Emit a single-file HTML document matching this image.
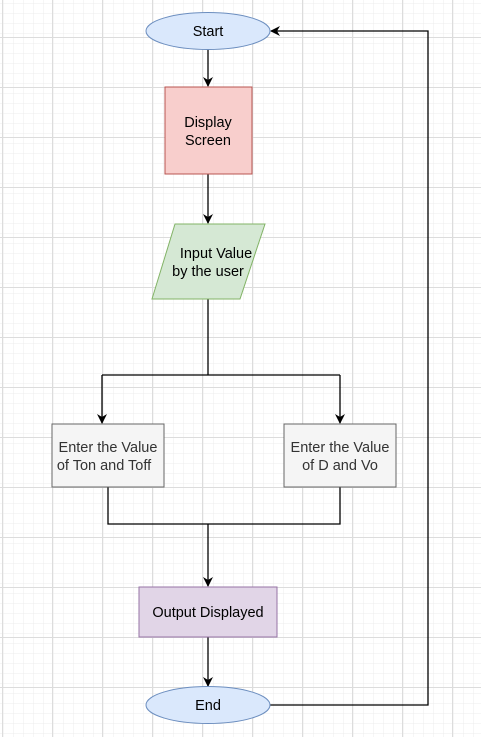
<!DOCTYPE html>
<html><head><style>body{margin:0;background:#fff}svg{display:block}</style></head><body>
<svg width="481" height="737" xmlns="http://www.w3.org/2000/svg" font-family="Liberation Sans, sans-serif" font-size="14.5">
<defs>
<pattern id="g" width="10" height="10" patternUnits="userSpaceOnUse" x="2" y="7"><path d="M10 0V10M0 10H10" stroke="#ececec" fill="none" stroke-width="1"/></pattern>
<pattern id="G" width="50" height="50" patternUnits="userSpaceOnUse" x="2" y="37"><rect width="50" height="50" fill="url(#g)"/><path d="M0 0.5H50M0.5 0V50" stroke="#dcdcdc" fill="none"/></pattern>
<marker id="a" markerWidth="10" markerHeight="10" refX="9" refY="5" orient="auto" markerUnits="userSpaceOnUse"><path d="M0 0L10 5L0 10L3 5Z" fill="#000"/></marker>
</defs>
<rect width="481" height="737" fill="url(#G)"/>
<g stroke="#000" stroke-width="1.3" fill="none">
<path d="M208 49V86" marker-end="url(#a)"/>
<path d="M208 174V223" marker-end="url(#a)"/>
<path d="M208 299V375"/>
<path d="M102 375H340"/>
<path d="M102 375V423" marker-end="url(#a)"/>
<path d="M340 375V423" marker-end="url(#a)"/>
<path d="M108 487V524H340V487"/>
<path d="M208 524V586" marker-end="url(#a)"/>
<path d="M208 637V686" marker-end="url(#a)"/>
<path d="M270 705H428V31H271" marker-end="url(#a)"/>
</g>
<ellipse cx="208" cy="31" rx="62" ry="18.5" fill="#dae8fc" stroke="#6c8ebf"/>
<text x="208" y="36" text-anchor="middle">Start</text>
<rect x="165" y="87" width="87" height="87" fill="#f8cecc" stroke="#b85450"/>
<text x="208" y="127" text-anchor="middle">Display</text>
<text x="208" y="145" text-anchor="middle">Screen</text>
<path d="M175 224H265L240 299H152Z" fill="#d5e8d4" stroke="#82b366"/>
<text x="216" y="258" text-anchor="middle">Input Value</text>
<text x="208" y="276" text-anchor="middle">by the user</text>
<rect x="52" y="424" width="112" height="63" fill="#f5f5f5" stroke="#666"/>
<text x="108" y="452" text-anchor="middle" fill="#333">Enter the Value</text>
<text x="104" y="470" text-anchor="middle" fill="#333">of Ton and Toff</text>
<rect x="284" y="424" width="112" height="63" fill="#f5f5f5" stroke="#666"/>
<text x="340" y="452" text-anchor="middle" fill="#333">Enter the Value</text>
<text x="340" y="470" text-anchor="middle" fill="#333">of D and Vo</text>
<rect x="139" y="587" width="138" height="50" fill="#e1d5e7" stroke="#9673a6"/>
<text x="208" y="617" text-anchor="middle">Output Displayed</text>
<ellipse cx="208" cy="705" rx="62" ry="18.5" fill="#dae8fc" stroke="#6c8ebf"/>
<text x="208" y="710" text-anchor="middle">End</text>
</svg>
</body></html>
